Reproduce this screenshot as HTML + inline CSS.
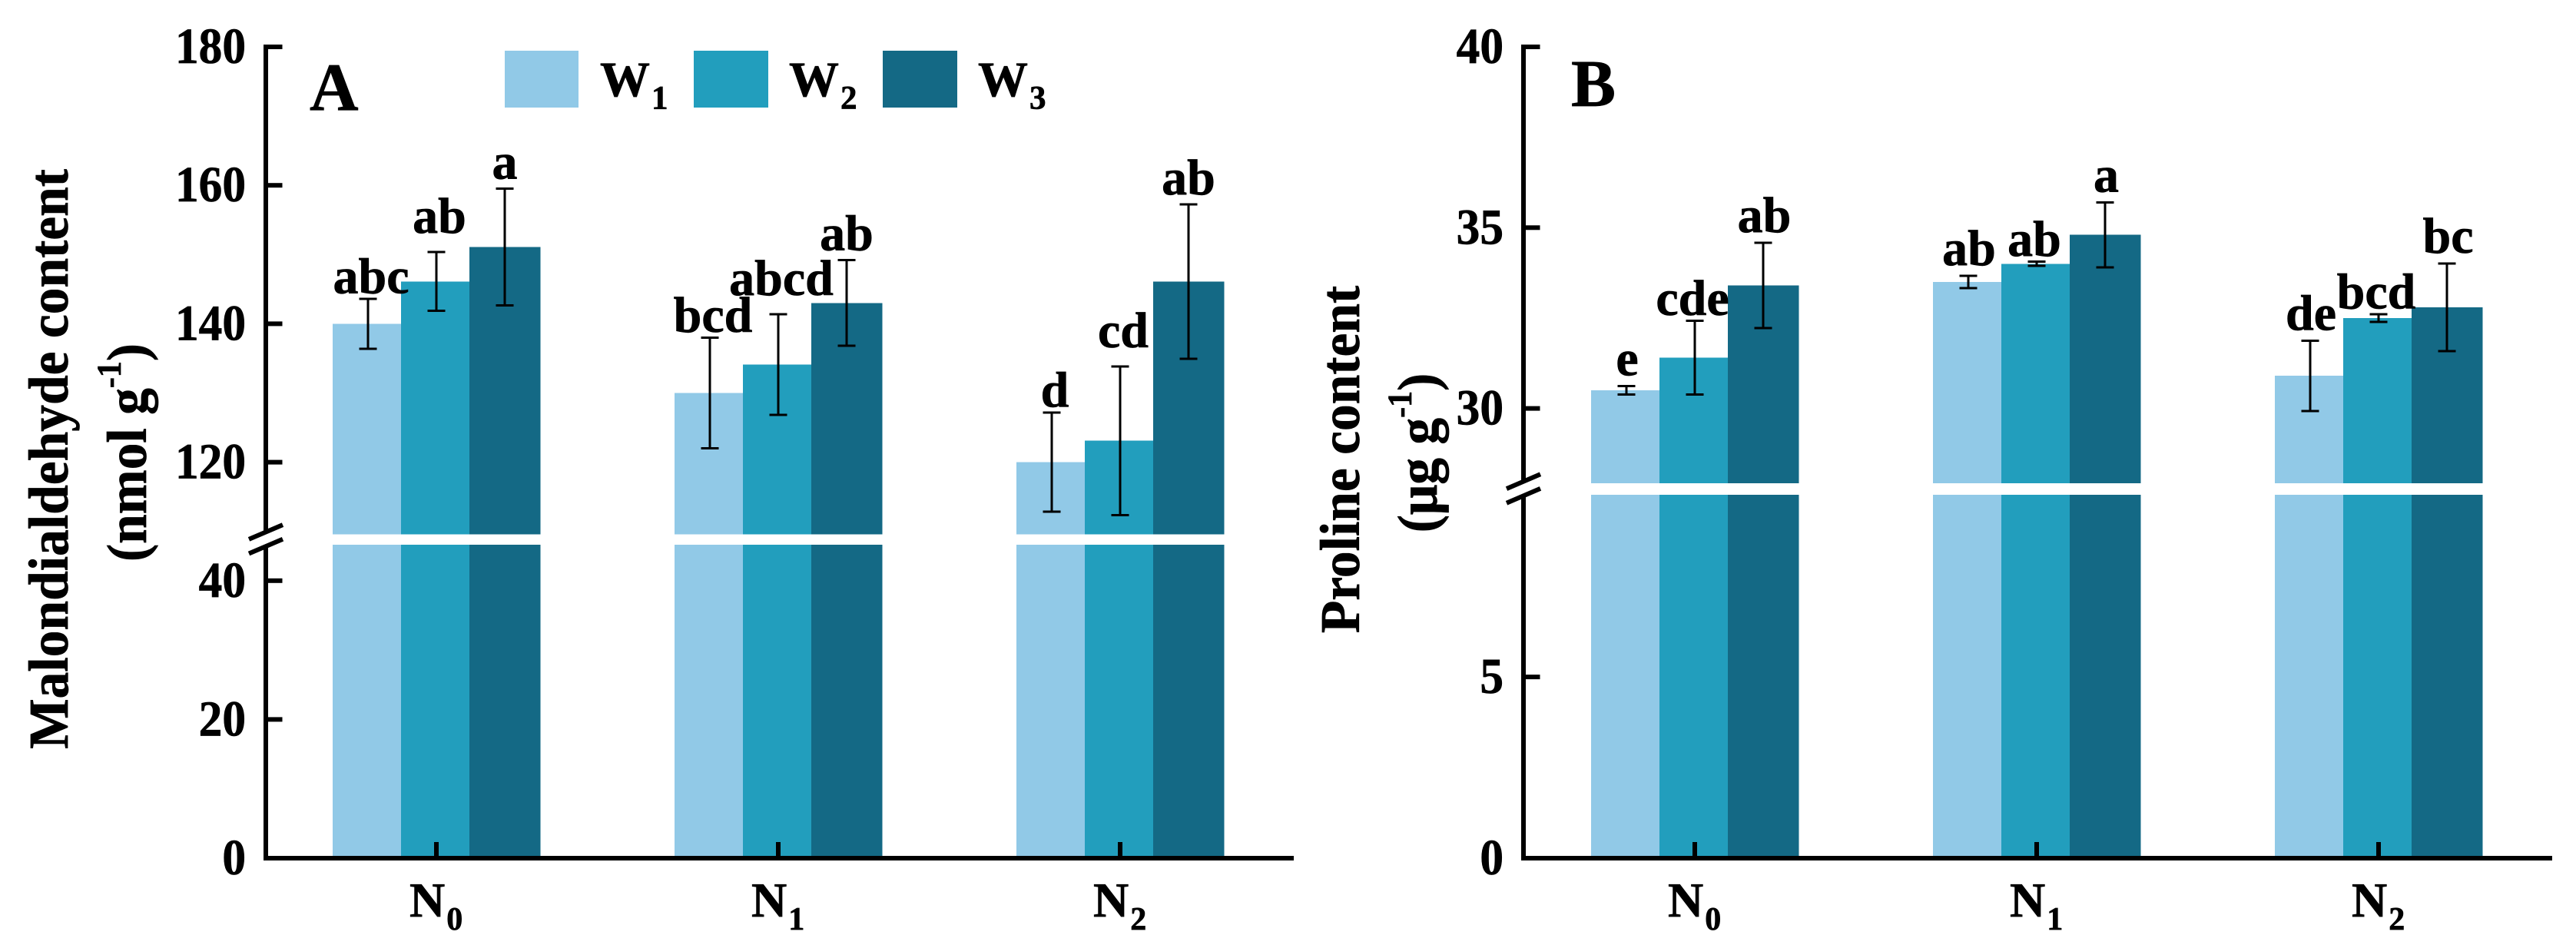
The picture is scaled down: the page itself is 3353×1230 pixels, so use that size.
<!DOCTYPE html>
<html lang="en">
<head>
<meta charset="utf-8">
<title>Malondialdehyde and proline content</title>
<style>
html,body{margin:0;padding:0;background:#fff}
svg{display:block}
text{font-family:"Liberation Serif",serif;font-weight:bold;fill:#000;stroke:#000;stroke-width:0.7px}
</style>
</head>
<body>
<svg id="chart" xmlns="http://www.w3.org/2000/svg" width="3353" height="1230" viewBox="0 0 3353 1230">
  <rect width="3353" height="1230" fill="#fff"/>
  <g>
    <rect x="657" y="66" width="96" height="74" fill="#91c9e7"/>
    <text x="781" y="125" font-size="65">W<tspan font-size="43" dy="16.4" dx="2">1</tspan></text>
    <rect x="903" y="66" width="97" height="74" fill="#229ebd"/>
    <text x="1027" y="125" font-size="65">W<tspan font-size="43" dy="16.4" dx="2">2</tspan></text>
    <rect x="1149" y="66" width="97" height="74" fill="#146985"/>
    <text x="1273" y="125" font-size="65">W<tspan font-size="43" dy="16.4" dx="2">3</tspan></text>
  </g>
  <text x="403" y="143" font-size="88">A</text>
  <text x="2045" y="138" font-size="87">B</text>
  <text transform="translate(88,597.5) rotate(-90) scale(1,1.05)" text-anchor="middle" font-size="69.5">Malondialdehyde content</text>
  <text transform="translate(190,589) rotate(-90) scale(1,1.05)" text-anchor="middle" font-size="69.5">(nmol g<tspan font-size="42" dy="-32">-1</tspan><tspan dy="32">)</tspan></text>
  <text transform="translate(1769,598) rotate(-90) scale(1,1.05)" text-anchor="middle" font-size="69.5">Proline content</text>
  <text transform="translate(1870,589.5) rotate(-90) scale(1,1.05)" text-anchor="middle" font-size="69.5">(μg g<tspan font-size="42" dy="-32">-1</tspan><tspan dy="32">)</tspan></text>
</svg>
<script>
// ---- data ----
const categories = ['0', '1', '2'];
const seriesNames = ['W1', 'W2', 'W3'];

const mdaMeans = [
  [140, 146.1, 151.1],
  [130, 134.1, 143],
  [120, 123.1, 146.1]
];
const mdaErrors = [
  [3.6, 4.25, 8.45],
  [8, 7.25, 6.2],
  [7.15, 10.75, 11.15]
];
const mdaLetters = [
  ['abc', 'ab', 'a'],
  ['bcd', 'abcd', 'ab'],
  ['d', 'cd', 'ab']
];
const mdaTicks = [0, 20, 40, 120, 140, 160, 180];

const proMeans = [
  [30.5, 31.4, 33.4],
  [33.5, 34, 34.8],
  [30.9, 32.5, 32.8]
];
const proErrors = [
  [0.12, 1.02, 1.18],
  [0.17, 0.06, 0.9],
  [0.97, 0.11, 1.21]
];
const proLetters = [
  ['e', 'cde', 'ab'],
  ['ab', 'ab', 'a'],
  ['de', 'bcd', 'bc']
];
const proTicks = [0, 5, 30, 35, 40];

// ---- layout ----
const NS = 'http://www.w3.org/2000/svg';
const svg = document.getElementById('chart');
const COLORS = ['#91c9e7', '#229ebd', '#146985'];

function make(tag, attrs, parent) {
  const el = document.createElementNS(NS, tag);
  for (const k in attrs) el.setAttribute(k, attrs[k]);
  parent.appendChild(el);
  return el;
}

function buildPanel(p) {
  const g = make('g', {}, svg);
  
  

  // piecewise y scale with a broken axis
  const yAxis = v => v >= p.breakHigh
    ? p.topY + (p.topValue - v) * p.upperScale
    : p.zeroY - v * p.lowerScale;

  // x positions for the bars
  const groupX = i => p.firstGroupX + i * p.groupStep;
  const barX = (i, s) => groupX(i) + s * p.barWidth;
  const barW = s => s === 2 ? p.barWidth + 3.5 : p.barWidth;

  // bars, two pieces each on either side of the axis break
  p.means.forEach((row, i) => {
    row.forEach((val, s) => {
      const lowTop = yAxis(Math.min(val, p.breakLow));
      const lower = make('rect', {x: barX(i, s), y: lowTop, width: barW(s), height: p.zeroY - lowTop, fill: COLORS[s], 'shape-rendering': 'crispEdges'}, g);
      
      
      if (val >= p.breakHigh) {
        const upTop = yAxis(val);
        const upBottom = yAxis(p.breakHigh);
        const upper = make('rect', {x: barX(i, s), y: upTop, width: barW(s), height: upBottom - upTop, fill: COLORS[s], 'shape-rendering': 'crispEdges'}, g);
        
        
      }
    });
  });

  // error bars and significance letters
  p.means.forEach((row, i) => {
    row.forEach((val, s) => {
      const cx = barX(i, s) + 46;
      const err = p.errors[i][s];
      const yHi = yAxis(val + err);
      const yLo = yAxis(val - err);
      const eb = make('path', {
        d: 'M' + (cx - 11.5) + ' ' + yHi + 'H' + (cx + 11.5) +
           'M' + cx + ' ' + yHi + 'V' + yLo +
           'M' + (cx - 11.5) + ' ' + yLo + 'H' + (cx + 11.5),
        stroke: '#000', 'stroke-width': 3, fill: 'none', 'shape-rendering': 'crispEdges'
      }, g);
      
      

      const lab = make('text', {
        x: cx + p.letterDx[s], y: yHi - p.letterGap[s],
        'text-anchor': 'middle', 'font-size': 66
      }, g);
      lab.textContent = p.letters[i][s];
      
      
    });
  });

  // y axis line in two pieces plus break marks
  const axX = p.axisX;
  const axU = make('rect', {x: axX - 3, y: p.topY - 3, width: 6, height: p.axisUpperEnd - p.topY + 3, fill: '#000'}, g);
  
  
  const axL = make('rect', {x: axX - 3, y: p.axisLowerStart, width: 6, height: p.zeroY + 3 - p.axisLowerStart, fill: '#000'}, g);
  
  

  [0, 1].forEach(k => {
    const yOff = k * 18.6;
    const sl = make('line', {
      x1: axX - 22, y1: p.slashY + 9.4 + yOff,
      x2: axX + 22, y2: p.slashY - 9.4 + yOff,
      stroke: '#000', 'stroke-width': 6
    }, g);
    
    
  });

  // y ticks
  p.ticks.forEach(v => {
    const y = yAxis(v);
    if (v !== 0) {
      const t = make('rect', {x: axX, y: y - 3, width: 21.5, height: 6, fill: '#000'}, g);
      
      
    }
    const tl = make('text', {
      transform: 'translate(' + p.tickRight + ',' + (y + 21) + ') scale(0.93,1)',
      'text-anchor': 'end', 'font-size': 66
    }, g);
    tl.textContent = String(v);
    
    
  });

  // x axis and category ticks
  const xa = make('rect', {x: axX - 3, y: p.zeroY - 3, width: p.axisEnd - axX + 3, height: 6, fill: '#000'}, g);
  
  

  categories.forEach((c, i) => {
    const cx = groupX(i) + 135;
    const t = make('rect', {x: cx - 3, y: p.zeroY - 21, width: 6, height: 21, fill: '#000'}, g);
    
    

    const lab = make('text', {x: cx - 35, y: 1193, 'font-size': 64}, g);
    lab.textContent = 'N';
    
    
    const sub = make('tspan', {'font-size': 42, dy: 17, dx: 2}, lab);
    sub.textContent = c;
  });
}

buildPanel({
  id: 'a', means: mdaMeans, errors: mdaErrors, letters: mdaLetters, ticks: mdaTicks,
  topValue: 180, topY: 61, upperScale: 9.01, zeroY: 1117, lowerScale: 9.03,
  breakLow: 45.2, breakHigh: 109.6,
  firstGroupX: 433, groupStep: 445, barWidth: 89,
  axisX: 346, axisEnd: 1684, tickRight: 320,
  axisUpperEnd: 693, axisLowerStart: 710, slashY: 692.5,
  letterGap: [7.5, 25, 13], letterDx: [4, 4, 0]
});

buildPanel({
  id: 'b', means: proMeans, errors: proErrors, letters: proLetters, ticks: proTicks,
  topValue: 40, topY: 61, upperScale: 47.06, zeroY: 1117, lowerScale: 47.18,
  breakLow: 10.03, breakHigh: 27.93,
  firstGroupX: 2071, groupStep: 445, barWidth: 89,
  axisX: 1983, axisEnd: 3322, tickRight: 1957,
  axisUpperEnd: 626, axisLowerStart: 645, slashY: 626.7,
  letterGap: [14, 7.5, 14], letterDx: [1, -3, 1.5]
});
</script>
</body>
</html>
